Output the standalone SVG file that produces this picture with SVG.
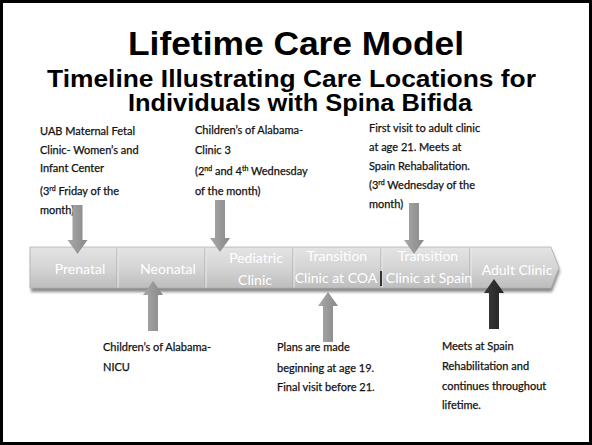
<svg xmlns="http://www.w3.org/2000/svg" width="592" height="445" viewBox="0 0 592 445">
  <style>
    .title { font-family: "Liberation Sans", Arial, sans-serif; font-weight: bold; fill: #000; }
    .note { font-family: Lato, "Liberation Sans", sans-serif; font-size: 11px; fill: #111; stroke: #111; stroke-width: 0.25; }
    .sup { font-size: 7px; }
    .seg { font-family: Lato, "Liberation Sans", sans-serif; font-size: 14px; fill: #ffffff; text-anchor: middle; }
    .divider { stroke: #aaaaaa; stroke-width: 1; }
    .divider-hi { stroke: #eeeeee; stroke-width: 1; }
    .arrow { fill: url(#arrowGrey); }
    .arrow-dark { fill: url(#arrowDark); }
  </style>
  <defs>
    <linearGradient id="barFill" x1="0" y1="0" x2="0" y2="1">
      <stop offset="0" stop-color="#e4e4e4"/>
      <stop offset="0.55" stop-color="#d3d3d3"/>
      <stop offset="1" stop-color="#bdbdbd"/>
    </linearGradient>
    <linearGradient id="arrowGrey" x1="0" y1="0" x2="1" y2="0">
      <stop offset="0" stop-color="#a9a9a9"/>
      <stop offset="1" stop-color="#888888"/>
    </linearGradient>
    <linearGradient id="arrowDark" x1="0" y1="0" x2="1" y2="0">
      <stop offset="0" stop-color="#3a3a3a"/>
      <stop offset="1" stop-color="#222222"/>
    </linearGradient>
    <filter id="soft" x="-5%" y="-50%" width="110%" height="200%">
      <feGaussianBlur stdDeviation="1.6"/>
    </filter>
  </defs>

  <rect width="592" height="445" fill="#ffffff"/>
  <rect x="1.5" y="1.5" width="589" height="442" fill="none" stroke="#000" stroke-width="3"/>

  <!-- heading -->
  <g id="heading">
    <text class="title" x="128" y="55" font-size="34" textLength="336" lengthAdjust="spacingAndGlyphs">Lifetime Care Model</text>
    <text class="title" x="47" y="87" font-size="23" textLength="489" lengthAdjust="spacingAndGlyphs">Timeline Illustrating Care Locations for</text>
    <text class="title" x="128" y="111" font-size="23" textLength="344" lengthAdjust="spacingAndGlyphs">Individuals with Spina Bifida</text>
  </g>

  <!-- timeline bar -->
  <g id="timeline">
    <path d="M31,251 H552 L560,271 L552,292 H31 Z" fill="#8a8a8a" filter="url(#soft)"/>
    <path d="M30,247 H551 L559,267.5 L551,288 H30 Z" fill="url(#barFill)" stroke="#b0b0b0" stroke-width="0.8"/>
    <line class="divider" x1="117" y1="247.5" x2="117" y2="287.5"/>
    <line class="divider-hi" x1="118" y1="247.5" x2="118" y2="287.5"/>
    <line class="divider" x1="205" y1="247.5" x2="205" y2="287.5"/>
    <line class="divider-hi" x1="206" y1="247.5" x2="206" y2="287.5"/>
    <line class="divider" x1="293" y1="247.5" x2="293" y2="287.5"/>
    <line class="divider-hi" x1="294" y1="247.5" x2="294" y2="287.5"/>
    <line class="divider" x1="381" y1="247.5" x2="381" y2="287.5"/>
    <line class="divider-hi" x1="382" y1="247.5" x2="382" y2="287.5"/>
    <line x1="381" y1="271" x2="381" y2="286" stroke="#333" stroke-width="2"/>
    <line class="divider" x1="470" y1="247.5" x2="470" y2="287.5"/>
    <line class="divider-hi" x1="471" y1="247.5" x2="471" y2="287.5"/>
  </g>

  <!-- timeline stages -->
  <g id="stage-prenatal"><text class="seg" x="80" y="274">Prenatal</text></g>
  <g id="stage-neonatal"><text class="seg" x="168" y="274">Neonatal</text></g>
  <g id="stage-pediatric"><text class="seg" x="256" y="263">Pediatric</text><text class="seg" x="255" y="285">Clinic</text></g>
  <g id="stage-transition-coa"><text class="seg" x="337" y="261">Transition</text><text class="seg" x="336" y="283">Clinic at COA</text></g>
  <g id="stage-transition-spain"><text class="seg" x="428" y="261">Transition</text><text class="seg" x="429" y="283">Clinic at Spain</text></g>
  <g id="stage-adult"><text class="seg" x="517" y="275">Adult Clinic</text></g>

  <!-- annotations above the bar -->
  <g id="note-prenatal">
    <text class="note" x="40" y="134.5">UAB Maternal Fetal</text>
    <text class="note" x="40" y="153.5">Clinic- Women’s and</text>
    <text class="note" x="40" y="172">Infant Center</text>
    <text class="note" x="40" y="195">(3<tspan class="sup" dy="-4">rd</tspan><tspan dy="4"> Friday of the</tspan></text>
    <text class="note" x="40" y="214">month)</text>
  </g>
  <g id="note-pediatric">
    <text class="note" x="195" y="134">Children’s of Alabama-</text>
    <text class="note" x="195" y="153.5">Clinic 3</text>
    <text class="note" x="195" y="175">(2<tspan class="sup" dy="-4">nd</tspan><tspan dy="4"> and 4</tspan><tspan class="sup" dy="-4">th</tspan><tspan dy="4"> Wednesday</tspan></text>
    <text class="note" x="195" y="195">of the month)</text>
  </g>
  <g id="note-spain">
    <text class="note" x="369" y="132">First visit to adult clinic</text>
    <text class="note" x="369" y="151">at age 21.  Meets at</text>
    <text class="note" x="369" y="170">Spain Rehabalitation.</text>
    <text class="note" x="369" y="189">(3<tspan class="sup" dy="-4">rd</tspan><tspan dy="4"> Wednesday of the</tspan></text>
    <text class="note" x="369" y="207.5">month)</text>
  </g>

  <!-- annotations below the bar -->
  <g id="note-neonatal">
    <text class="note" x="103" y="351">Children’s of Alabama-</text>
    <text class="note" x="103" y="371">NICU</text>
  </g>
  <g id="note-coa">
    <text class="note" x="277" y="351">Plans are made</text>
    <text class="note" x="277" y="372">beginning at age 19.</text>
    <text class="note" x="277" y="391">Final visit before 21.</text>
  </g>
  <g id="note-adult">
    <text class="note" x="442" y="350">Meets at Spain</text>
    <text class="note" x="442" y="370">Rehabilitation and</text>
    <text class="note" x="442" y="390">continues throughout</text>
    <text class="note" x="442" y="409">lifetime.</text>
  </g>

  <!-- connectors: block arrows pointing at the stages -->
  <g id="connectors">
    <polygon class="arrow" points="72.5,205 82.5,205 82.5,240 87.5,240 77.5,254 67.5,240 72.5,240"/>
    <polygon class="arrow" points="215,200 225,200 225,238 230,238 220,252 210,238 215,238"/>
    <polygon class="arrow" points="409,203 419,203 419,240 424,240 414,254 404,240 409,240"/>
    <polygon class="arrow" points="153,281 163,295 158,295 158,331 148,331 148,295 143,295"/>
    <polygon class="arrow" points="328,292 338,306 333,306 333,342 323,342 323,306 318,306"/>
    <polygon class="arrow-dark" points="494,279 504,293 499,293 499,329 489,329 489,293 484,293"/>
  </g>
</svg>
